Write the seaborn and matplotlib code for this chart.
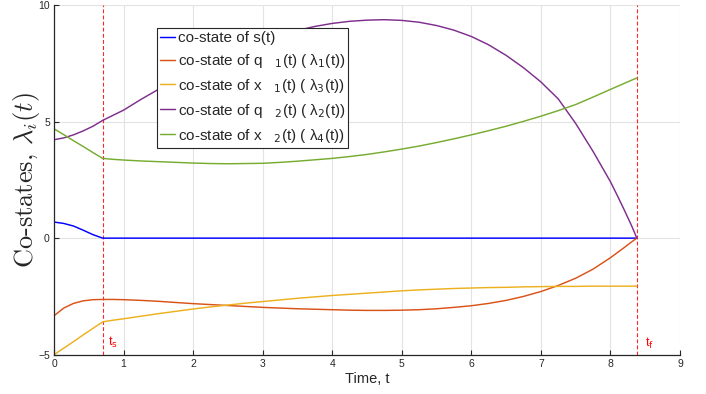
import numpy as np
import pandas as pd
import matplotlib
matplotlib.use("Agg")
import matplotlib.pyplot as plt
import seaborn as sns

# ---- data ----
t = [0.0, 0.14, 0.28, 0.42, 0.56, 0.7, 0.85, 1.0, 1.25, 1.5, 1.75, 2.0, 2.25, 2.5, 2.75,
     3.0, 3.25, 3.5, 3.75, 4.0, 4.25, 4.5, 4.75, 5.0, 5.25, 5.5, 5.75, 6.0, 6.25, 6.5,
     6.75, 7.0, 7.25, 7.5, 7.75, 8.0, 8.1, 8.2, 8.3, 8.38]
s_costate = [0.69, 0.63, 0.52, 0.34, 0.15, 0.0, 0.0, 0.0, 0.0, 0.0, 0.0, 0.0, 0.0, 0.0, 0.0,
             0.0, 0.0, 0.0, 0.0, 0.0, 0.0, 0.0, 0.0, 0.0, 0.0, 0.0, 0.0, 0.0, 0.0, 0.0,
             0.0, 0.0, 0.0, 0.0, 0.0, 0.0, 0.0, 0.0, 0.0, 0.0]
lam1 = [-3.33, -3.0, -2.80, -2.69, -2.64, -2.63, -2.63, -2.64, -2.67, -2.71, -2.76, -2.81,
        -2.85, -2.89, -2.93, -2.97, -3.0, -3.03, -3.05, -3.07, -3.09, -3.10, -3.10, -3.09,
        -3.07, -3.03, -2.97, -2.90, -2.80, -2.67, -2.50, -2.29, -2.03, -1.72, -1.33, -0.84,
        -0.62, -0.40, -0.17, 0.0]
lam3 = [-5.0, -4.72, -4.44, -4.15, -3.87, -3.59, -3.52, -3.46, -3.35, -3.24, -3.14, -3.04,
        -2.95, -2.87, -2.79, -2.72, -2.65, -2.58, -2.52, -2.46, -2.41, -2.36, -2.31, -2.26,
        -2.22, -2.19, -2.16, -2.14, -2.12, -2.11, -2.09, -2.08, -2.07, -2.07, -2.06, -2.06,
        -2.06, -2.06, -2.06, -2.06]
lam2 = [4.22, 4.30, 4.43, 4.60, 4.80, 5.05, 5.27, 5.49, 5.95, 6.38, 6.78, 7.16, 7.52, 7.86,
        8.17, 8.45, 8.70, 8.91, 9.08, 9.21, 9.30, 9.35, 9.37, 9.34, 9.26, 9.12, 8.92, 8.65,
        8.29, 7.84, 7.31, 6.70, 5.97, 4.92, 3.72, 2.42, 1.82, 1.20, 0.56, 0.0]
lam4 = [4.69, 4.44, 4.18, 3.93, 3.67, 3.42, 3.38, 3.35, 3.31, 3.28, 3.25, 3.22, 3.20, 3.19,
        3.20, 3.21, 3.25, 3.30, 3.36, 3.42, 3.50, 3.59, 3.70, 3.82, 3.95, 4.10, 4.26, 4.43,
        4.61, 4.80, 5.01, 5.23, 5.47, 5.73, 6.05, 6.38, 6.51, 6.64, 6.77, 6.87]
t_s = 0.7
t_f = 8.38

labels = ["co-state of s(t)",
          "co-state of q   $_{1}$(t) ( λ$_{1}$(t))",
          "co-state of x   $_{1}$(t) ( λ$_{3}$(t))",
          "co-state of q   $_{2}$(t) ( λ$_{2}$(t))",
          "co-state of x   $_{2}$(t) ( λ$_{4}$(t))"]
colors = ["#0000FF", "#D95319", "#EDB120", "#7E2F8E", "#77AC30"]
xticks = [0, 1, 2, 3, 4, 5, 6, 7, 8, 9]
yticks = [-5, 0, 5, 10]

sns.set_style("white")
plt.rcParams['font.family'] = ['Liberation Sans', 'DejaVu Sans']

fig = plt.figure(figsize=(7.06, 3.94), dpi=100)
ax = fig.add_axes([54/706, 1-354.7/394, 626/706, 349.7/394])

for y, c, lab in zip([s_costate, lam1, lam3, lam2, lam4], colors, labels):
    sns.lineplot(x=t, y=y, color=c, label=lab, ax=ax, linewidth=1.05, sort=False)

red = "#FF0000"
for xv in (t_s, t_f):
    ax.axvline(xv, color=red, linestyle=(0, (3.5, 2)), linewidth=0.8, alpha=0.85, zorder=1)
ax.text(0.78, -4.63, "t$_{\\mathrm{s}}$", color=red, fontsize=9, va="baseline", ha="left")
ax.text(8.50, -4.65, "t$_{\\mathrm{f}}$", color=red, fontsize=9, va="baseline", ha="left")

ax.set_xlim(0, 9)
ax.set_ylim(-5, 10)
ax.set_xticks(xticks)
ax.set_yticks(yticks)
ax.grid(True, color="#E3E3E3", linewidth=0.8)
ax.set_axisbelow(True)
for sp in ("top", "right"):
    ax.spines[sp].set_visible(False)
for sp in ("left", "bottom"):
    ax.spines[sp].set_color("#262626")
    ax.spines[sp].set_linewidth(0.9)
ax.tick_params(direction="in", length=3.5, width=0.8, colors="#262626",
               labelsize=7.5, pad=3, left=True, bottom=True)

ax.set_xlabel("Time, t", fontsize=10.5, color="#262626", labelpad=2)
ax.set_ylabel(r"Co-states, $\lambda_i(t)$", fontsize=19, family="cmr10",
              math_fontfamily="cm", labelpad=-3)

leg = ax.legend(loc="upper left", bbox_to_anchor=((157-54)/626, (354.7-28)/349.7),
                borderaxespad=0, fancybox=False, framealpha=1, edgecolor="#262626",
                fontsize=11, handlelength=1.0, handletextpad=0.15, borderpad=0.2,
                labelspacing=0.45)
leg.get_frame().set_linewidth(0.8)

fig.savefig("out.png", dpi=100)
